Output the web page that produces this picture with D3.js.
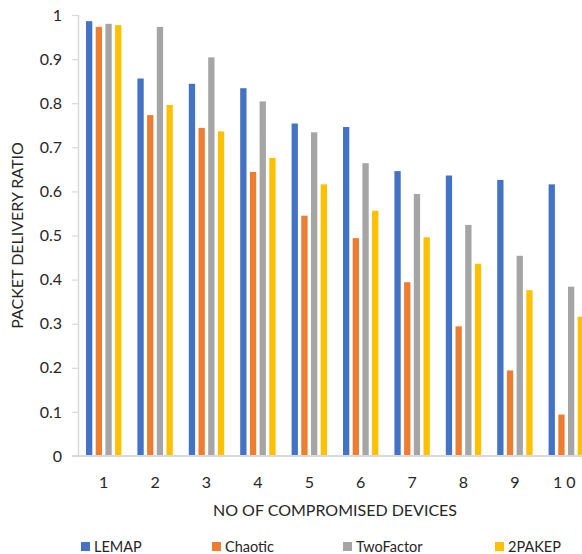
<!DOCTYPE html>
<html>
<head>
<meta charset="utf-8">
<script src="https://cdn.jsdelivr.net/npm/d3@7"></script>
<style>
  html, body { margin: 0; padding: 0; background: #fff; }
  svg { display: block; }
  text { font-family: Lato, "Liberation Sans", sans-serif; fill: #262626; }
</style>
</head>
<body>
<svg id="chart" width="582" height="554"></svg>
<script>
const categories = ["1", "2", "3", "4", "5", "6", "7", "8", "9", "10"];
const seriesNames = ["LEMAP", "Chaotic", "TwoFactor", "2PAKEP"];
const lemap     = [0.986, 0.856, 0.844, 0.834, 0.754, 0.746, 0.646, 0.636, 0.626, 0.616];
const chaotic   = [0.973, 0.773, 0.744, 0.644, 0.545, 0.494, 0.394, 0.294, 0.194, 0.094];
const twoFactor = [0.980, 0.973, 0.904, 0.804, 0.734, 0.664, 0.594, 0.524, 0.454, 0.384];
const pakep     = [0.977, 0.796, 0.736, 0.676, 0.616, 0.556, 0.496, 0.436, 0.376, 0.316];
const yTicks    = [0, 0.1, 0.2, 0.3, 0.4, 0.5, 0.6, 0.7, 0.8, 0.9, 1];
const colors    = ["#4472C4", "#ED7D31", "#A5A5A5", "#FFC000"];
const yTitle = "PACKET DELIVERY RATIO";
const xTitle = "NO OF COMPROMISED DEVICES";

const values = [lemap, chaotic, twoFactor, pakep];
const svg = d3.select("#chart");

const plot = { left: 78, right: 592, top: 15, bottom: 456 };

const x0 = d3.scaleBand().domain(categories).range([plot.left, plot.right]).padding(0);
const x1 = d3.scaleBand().domain(seriesNames)
  .range([8, x0.bandwidth() - 8]).paddingInner(0.35).paddingOuter(0);
const y = d3.scaleLinear().domain([0, 1]).range([plot.bottom, plot.top]);

// bars
const groups = svg.append("g").selectAll("g")
  .data(categories).join("g")
  .attr("transform", d => `translate(${x0(d)},0)`);

groups.selectAll("rect")
  .data((c, ci) => seriesNames.map((s, si) => ({ s, si, v: values[si][ci] })))
  .join("rect")
  .attr("x", d => x1(d.s))
  .attr("width", x1.bandwidth())
  .attr("y", d => y(d.v))
  .attr("height", d => y(0) - y(d.v))
  .attr("fill", d => colors[d.si]);

// y axis
const yAxis = d3.axisLeft(y).tickValues(yTicks).tickSize(6).tickPadding(10)
  .tickFormat(d => d3.format("~g")(d));
const gy = svg.append("g").attr("transform", `translate(${plot.left},0)`).call(yAxis);
gy.select(".domain").attr("stroke", "#d9d9d9").attr("stroke-width", 1.5).attr("d", `M0.5,${plot.top}V${plot.bottom}`);
gy.selectAll(".tick line").attr("stroke", "#d9d9d9").attr("stroke-width", 1.2);
gy.selectAll(".tick text").style("font-size", "16px").style("font-family", "Lato, sans-serif").attr("fill", "#262626");

// x axis
const xAxis = d3.axisBottom(x0).tickSize(0).tickPadding(21);
const gx = svg.append("g").attr("transform", `translate(0,${plot.bottom})`).call(xAxis);
gx.select(".domain").attr("stroke", "#d9d9d9").attr("stroke-width", 2).attr("d", `M${plot.left - 6},0H${plot.right}`);
gx.selectAll(".tick text").style("font-size", "16px").style("font-family", "Lato, sans-serif")
  .attr("fill", "#262626")
  .style("letter-spacing", d => d.length > 1 ? "4px" : "0px");

// axis titles
svg.append("text")
  .attr("transform", `translate(23,${(plot.top + plot.bottom) / 2}) rotate(-90)`)
  .attr("text-anchor", "middle")
  .style("font-size", "16px")
  .text(yTitle);

svg.append("text")
  .attr("x", (plot.left + plot.right) / 2)
  .attr("y", 516)
  .attr("text-anchor", "middle")
  .style("font-size", "16px")
  .text(xTitle);

// legend
const legendX = [81, 212, 343, 495];
const legend = svg.append("g").selectAll("g")
  .data(seriesNames).join("g")
  .attr("transform", (d, i) => `translate(${legendX[i]},542)`);
legend.append("rect").attr("width", 9).attr("height", 9).attr("fill", (d, i) => colors[i]);
legend.append("text").attr("x", 13).attr("y", 9.5)
  .style("font-size", "14.5px").text(d => d);
</script>
</body>
</html>
